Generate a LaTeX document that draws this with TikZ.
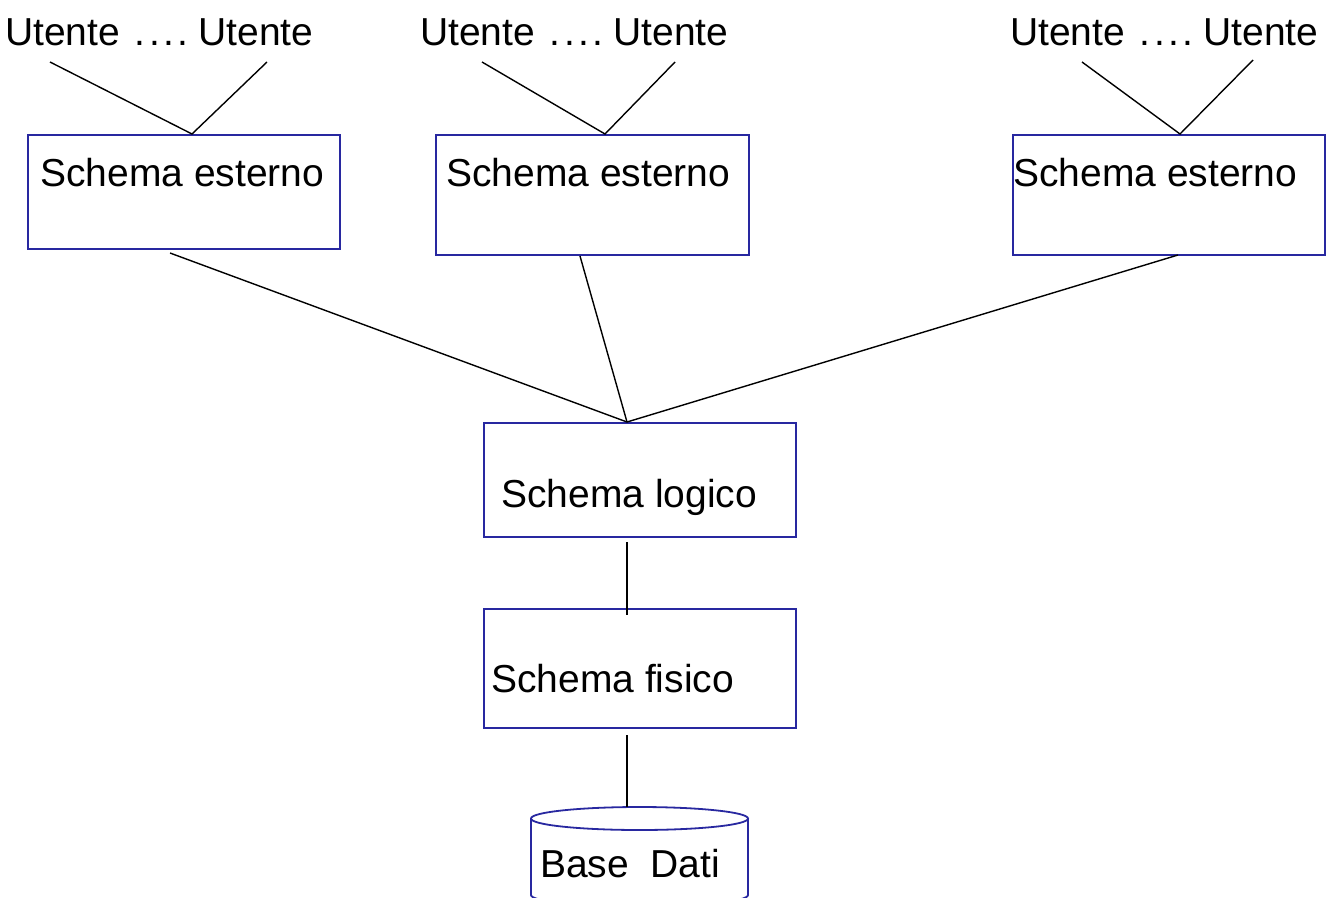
\documentclass[tikz,border=0pt]{standalone}
\usepackage{fontspec}
\setmainfont{Liberation Sans}
\definecolor{boxblue}{RGB}{40,40,160}
\newcommand{\utline}{Utente \kern4pt.\kern3.5pt.\kern3.5pt.\kern3.5pt.\kern-1pt\ Utente}
\begin{document}
\begin{tikzpicture}[x=1pt,y=-1pt,
  box/.style={draw=boxblue, line width=1.8pt, anchor=north west, inner sep=0pt},
  lbl/.style={font=\fontsize{39}{47}\selectfont, anchor=base west, inner sep=0pt},
  conn/.style={draw=black, line width=1.4pt},
  dbline/.style={draw=boxblue, line width=1.8pt}]
\useasboundingbox (0,0) rectangle (1330,897);
\clip (0,0) rectangle (1330,897);
\fill[white] (0,0) rectangle (1330,897);

% boxes
\node[box, minimum width=312pt, minimum height=114pt] (se1) at (27,134) {};
\node[box, minimum width=313pt, minimum height=120pt] (se2) at (435,134) {};
\node[box, minimum width=312pt, minimum height=120pt] (se3) at (1012,134) {};
\node[box, minimum width=312pt, minimum height=114pt] (sl) at (483,422) {};
\node[box, minimum width=312pt, minimum height=119pt] (sf) at (483,608) {};

% labels
\node[lbl] (u1) at (5,45) {\utline};
\node[lbl] (u2) at (420,45) {\utline};
\node[lbl] (u3) at (1010,45) {\utline};
\node[lbl] (t1) at (40,186) {Schema esterno};
\node[lbl] (t2) at (446,186) {Schema esterno};
\node[lbl] (t3) at (1013,186) {Schema esterno};
\node[lbl] (tl) at (501,507) {Schema logico};
\node[lbl] (tf) at (491,692) {Schema fisico};

% database cylinder
\draw[dbline] (639.5,818.5) ellipse [x radius=108.5pt, y radius=11.5pt];
\draw[dbline] (531,818.5) -- (531,895)
  arc[start angle=180, end angle=360, x radius=108.5pt, y radius=11.5pt]
  -- (748,818.5);
\node[lbl] (db) at (540,877) {Base\ \ Dati};

% connector end points
\coordinate (u1l) at (50,62);   \coordinate (u1r) at (267,62);
\coordinate (u2l) at (482,62);  \coordinate (u2r) at (675,62);
\coordinate (u3l) at (1082,62); \coordinate (u3r) at (1253,60);
\coordinate (se1top) at (192,134);
\coordinate (se2top) at (605,134);
\coordinate (se3top) at (1180,134);
\coordinate (se1bot) at (170,253);
\coordinate (se2bot) at (580,256);
\coordinate (se3bot) at (1178,255);
\coordinate (sltop) at (627,422);
\coordinate (slbot) at (627,542);
\coordinate (sftop) at (627,615);
\coordinate (sfbot) at (627,735);
\coordinate (dbtop) at (627,807);

% connectors
\draw[conn] (u1l) -- (se1top) -- (u1r);
\draw[conn] (u2l) -- (se2top) -- (u2r);
\draw[conn] (u3l) -- (se3top) -- (u3r);
\draw[conn] (se1bot) -- (sltop);
\draw[conn] (se2bot) -- (sltop);
\draw[conn] (se3bot) -- (sltop);
\draw[conn] (slbot) -- (sftop);
\draw[conn] (sfbot) -- (dbtop);
\end{tikzpicture}
\end{document}
